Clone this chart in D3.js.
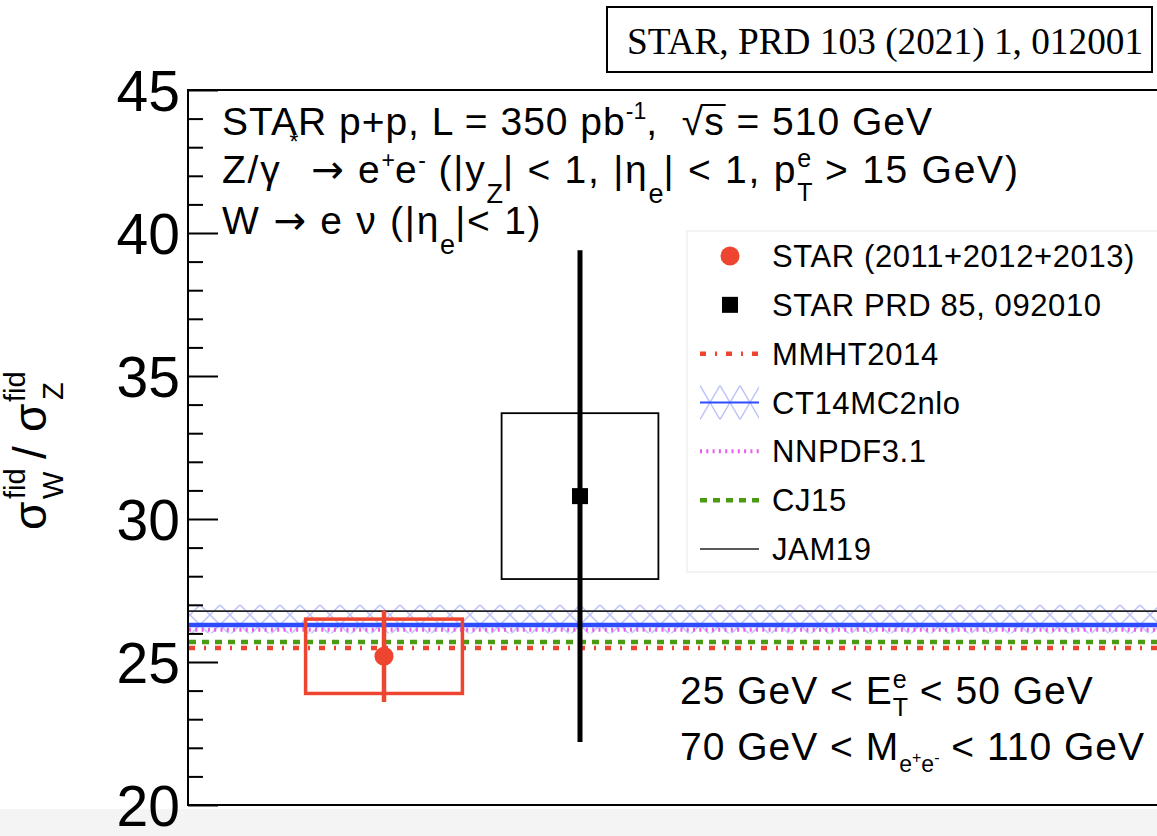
<!DOCTYPE html>
<html>
<head>
<meta charset="utf-8">
<script src="https://cdn.jsdelivr.net/npm/d3@7"></script>
<style>
  html, body { margin: 0; padding: 0; background: #ffffff; }
  svg { display: block; }
  text { font-family: "Liberation Sans", Arial, Helvetica, sans-serif; fill: #000; }
</style>
</head>
<body>
<svg id="chart" width="1157" height="836"></svg>
<script>
// Measured W/Z fiducial cross-section ratios
const pointNames = ["STAR (2011+2012+2013)", "STAR PRD 85, 092010"];
const pointX = [1, 2];
const pointVal = [25.2, 30.8];
const statErr = [1.6, 8.6];
const sysErr = [1.3, 2.9];

// Theory predictions (central values) and the CT14MC2nlo uncertainty band
const theoryNames = ["MMHT2014", "CT14MC2nlo", "NNPDF3.1", "CJ15", "JAM19"];
const theoryVal = [25.49, 26.29, 26.13, 25.70, 26.78];
const ct14Band = [26.0, 27.0];

// Axis ticks
const yMajorTicks = [20, 25, 30, 35, 40, 45];
const yMinorTicks = [21, 22, 23, 24, 26, 27, 28, 29, 31, 32, 33, 34, 36, 37, 38, 39, 41, 42, 43, 44];

const svg = d3.select("#chart");
const W = 1157, H = 836;

const y = d3.scaleLinear().domain([20, 45]).range([805, 90]);
const x = d3.scaleLinear().domain([0, 5]).range([188, 1168]);

const colors = {
  red: "#ee4531",
  blue: "#2d4cff",
  magenta: "#ea5cf0",
  green: "#4a9a12",
  black: "#000000"
};

const styles = {
  MMHT2014: { color: colors.red, width: 4.5, dash: "6,9,2,9" },
  CT14MC2nlo: { color: colors.blue, width: 4.5, dash: null },
  "NNPDF3.1": { color: colors.magenta, width: 4, dash: "2,4.3" },
  CJ15: { color: colors.green, width: 4.5, dash: "7,6" },
  JAM19: { color: "#222", width: 1.6, dash: null }
};

// light grey strip at the very bottom
svg.append("rect").attr("x", 0).attr("y", 809).attr("width", W).attr("height", H - 809).attr("fill", "#f4f4f4");

// cross-hatch pattern for the CT14 band
const defs = svg.append("defs");
const pat = defs.append("pattern")
  .attr("id", "xhatch")
  .attr("patternUnits", "userSpaceOnUse")
  .attr("width", 20).attr("height", 20)
  .attr("y", y(ct14Band[1]));
pat.append("path").attr("d", "M0,0 L20,20 M0,20 L20,0 M-2,2 L2,-2 M18,22 L22,18 M-2,18 L2,22 M18,-2 L22,2")
  .attr("stroke", "#9aa3f5").attr("stroke-width", 1.3).attr("fill", "none").attr("opacity", 0.75);

const plot = svg.append("g");

// CT14 uncertainty band
plot.append("rect")
  .attr("x", x(0)).attr("width", x(5) - x(0))
  .attr("y", y(ct14Band[1])).attr("height", y(ct14Band[0]) - y(ct14Band[1]))
  .attr("fill", "url(#xhatch)");

// theory lines (drawn back to front)
const drawOrder = ["MMHT2014", "CJ15", "NNPDF3.1", "CT14MC2nlo", "JAM19"];
drawOrder.forEach(name => {
  const i = theoryNames.indexOf(name);
  const st = styles[name];
  plot.append("line")
    .attr("x1", x(0) + 1).attr("x2", x(5))
    .attr("y1", y(theoryVal[i])).attr("y2", y(theoryVal[i]))
    .attr("stroke", st.color).attr("stroke-width", st.width)
    .attr("stroke-dasharray", st.dash);
});

// data points: systematic boxes, statistical error bars, markers
const boxHalf = 0.4;
const ptColor = [colors.red, colors.black];
const boxWidth = [3.5, 1.8];
const barWidth = [4.5, 5];
pointX.forEach((px, i) => {
  plot.append("rect")
    .attr("x", x(px - boxHalf)).attr("width", x(px + boxHalf) - x(px - boxHalf))
    .attr("y", y(pointVal[i] + sysErr[i])).attr("height", y(pointVal[i] - sysErr[i]) - y(pointVal[i] + sysErr[i]))
    .attr("fill", "none").attr("stroke", ptColor[i]).attr("stroke-width", boxWidth[i]);
  plot.append("line")
    .attr("x1", x(px)).attr("x2", x(px))
    .attr("y1", y(pointVal[i] + statErr[i])).attr("y2", y(pointVal[i] - statErr[i]))
    .attr("stroke", ptColor[i]).attr("stroke-width", barWidth[i]);
});
plot.append("circle").attr("cx", x(pointX[0])).attr("cy", y(pointVal[0])).attr("r", 9.5).attr("fill", colors.red);
plot.append("rect").attr("x", x(pointX[1]) - 8).attr("y", y(pointVal[1]) - 8).attr("width", 16).attr("height", 16).attr("fill", "#000");

// frame
svg.append("line").attr("x1", 188).attr("x2", 188).attr("y1", 89).attr("y2", 806).attr("stroke", "#000").attr("stroke-width", 2);
svg.append("line").attr("x1", 187).attr("x2", W).attr("y1", 90).attr("y2", 90).attr("stroke", "#000").attr("stroke-width", 2);
svg.append("line").attr("x1", 187).attr("x2", W).attr("y1", 805).attr("y2", 805).attr("stroke", "#000").attr("stroke-width", 2);

// y axis ticks (inside) and labels
const gMaj = svg.append("g").attr("transform", "translate(188,0)")
  .call(d3.axisRight(y).tickValues(yMajorTicks).tickSize(30).tickFormat(""));
const gMin = svg.append("g").attr("transform", "translate(188,0)")
  .call(d3.axisRight(y).tickValues(yMinorTicks).tickSize(15).tickFormat(""));
[gMaj, gMin].forEach(g => {
  g.select(".domain").remove();
  g.selectAll(".tick line").attr("stroke", "#000").attr("stroke-width", 2);
});
const gLab = svg.append("g").attr("transform", "translate(188,0)")
  .call(d3.axisLeft(y).tickValues(yMajorTicks).tickSize(0).tickPadding(8).tickFormat(d3.format("d")));
gLab.select(".domain").remove();
gLab.selectAll("text").attr("font-size", 57).attr("font-family", "Liberation Sans, Arial, sans-serif").attr("fill", "#000").attr("dy", "0.36em");

// rich text helper: lays out segments left to right
function rich(parent, x0, y0, segs, base, spacing) {
  let cx = x0;
  const out = [];
  segs.forEach(s => {
    const t = parent.append("text")
      .attr("x", cx + (s.dx || 0))
      .attr("y", y0 + (s.dy || 0))
      .attr("font-size", s.size || base)
      .attr("letter-spacing", s.size ? 0 : (spacing || 0))
      .style("white-space", "pre")
      .text(s.t);
    if (s.font) t.style("font-family", s.font);
    const w = t.node().getComputedTextLength();
    out.push({ x: cx + (s.dx || 0), w: w, node: t });
    if (!s.keep) cx += (s.dx || 0) + w;
  });
  return out;
}

const ARROW_FONT = "'DejaVu Sans', sans-serif";

// header block
const hdr = svg.append("g");
const l1 = rich(hdr, 222, 135, [
  { t: "STAR p+p, L = 350 pb" },
  { t: "-1", size: 23, dy: -16 },
  { t: ",  " },
  { t: "√" },
  { t: "s" },
  { t: " = 510 GeV" }
], 39, 1);
// radical bar over s
hdr.append("line").attr("x1", l1[3].x + l1[3].w - 3).attr("x2", l1[4].x + l1[4].w + 1)
  .attr("y1", 105).attr("y2", 105).attr("stroke", "#000").attr("stroke-width", 2);

rich(hdr, 222, 183, [
  { t: "Z/γ" },
  { t: "*", size: 23, dy: -33, dx: 8 },
  { t: " " },
  { t: "→", font: ARROW_FONT },
  { t: " e" },
  { t: "+", size: 23, dy: -15 },
  { t: "e" },
  { t: "-", size: 23, dy: -15 },
  { t: " (|y" },
  { t: "Z", size: 27, dy: 20 },
  { t: "| < 1, |η" },
  { t: "e", size: 27, dy: 20 },
  { t: "| < 1, p" },
  { t: "e", size: 25, dy: -16, keep: true },
  { t: "T", size: 25, dy: 18 },
  { t: " > 15 GeV)" }
], 39, 1.75);

rich(hdr, 222, 234, [
  { t: "W " },
  { t: "→", font: ARROW_FONT },
  { t: " e ν (|η" },
  { t: "e", size: 27, dy: 20 },
  { t: "|< 1)" }
], 39, 1.75);

// cuts block
rich(svg, 680, 704, [
  { t: "25 GeV < E" },
  { t: "e", size: 25, dy: -16, keep: true },
  { t: "T", size: 25, dy: 12 },
  { t: " < 50 GeV" }
], 39, 1);
rich(svg, 680, 760, [
  { t: "70 GeV < M" },
  { t: "e", size: 23, dy: 12 },
  { t: "+", size: 16, dy: 3 },
  { t: "e", size: 23, dy: 12 },
  { t: "-", size: 16, dy: 3 },
  { t: " < 110 GeV" }
], 39, 1);

// y-axis title
const yt = svg.append("g").attr("transform", "translate(46,530) rotate(-90)");
const ytSegs = [
  { t: "σ", size: 46, off: 0, dy: 0 },
  { t: "fid", size: 29, off: 31, dy: -21 },
  { t: "W", size: 29, off: 31, dy: 17 },
  { t: "/", size: 46, off: 71, dy: 0 },
  { t: "σ", size: 46, off: 98, dy: 0 },
  { t: "fid", size: 29, off: 128, dy: -21 },
  { t: "Z", size: 29, off: 130, dy: 17 }
];
ytSegs.forEach(s => {
  yt.append("text").attr("x", s.off).attr("y", s.dy).attr("font-size", s.size).text(s.t);
});

// legend
const lg = svg.append("g");
lg.append("rect").attr("x", 687).attr("y", 231).attr("width", 480).attr("height", 341)
  .attr("fill", "#fff").attr("stroke", "#f0f0f0").attr("stroke-width", 1.5);
const legendEntries = [pointNames[0], pointNames[1]].concat(theoryNames);
const ly = d3.scaleLinear().domain([0, legendEntries.length - 1]).range([256, 549]);
const patL = defs.append("pattern")
  .attr("id", "xhatchL")
  .attr("patternUnits", "userSpaceOnUse")
  .attr("width", 20).attr("height", 34)
  .attr("x", 700).attr("y", ly(3) - 17);
patL.append("path").attr("d", "M0,0 L20,34 M0,34 L20,0")
  .attr("stroke", "#9aa3f5").attr("stroke-width", 1.3).attr("fill", "none").attr("opacity", 0.75);
legendEntries.forEach((name, i) => {
  const cy = ly(i);
  if (i === 0) {
    lg.append("circle").attr("cx", 730).attr("cy", cy).attr("r", 9.5).attr("fill", colors.red);
  } else if (i === 1) {
    lg.append("rect").attr("x", 722).attr("y", cy - 8).attr("width", 16).attr("height", 16).attr("fill", "#000");
  } else {
    const st = styles[name];
    if (name === "CT14MC2nlo") {
      lg.append("rect").attr("x", 700).attr("y", cy - 17).attr("width", 59).attr("height", 34)
        .attr("fill", "url(#xhatchL)");
    }
    lg.append("line").attr("x1", 700).attr("x2", 759).attr("y1", cy).attr("y2", cy)
      .attr("stroke", st.color).attr("stroke-width", name === "JAM19" ? 1.6 : (name === "CT14MC2nlo" ? 2 : st.width))
      .attr("stroke-dasharray", st.dash);
  }
  lg.append("text").attr("x", 772).attr("y", cy + 11).attr("font-size", 31).attr("letter-spacing", 0.6).text(name);
});

// reference box
svg.append("rect").attr("x", 607).attr("y", 7).attr("width", 545).attr("height", 65)
  .attr("fill", "#fff").attr("stroke", "#000").attr("stroke-width", 2);
svg.append("text").attr("x", 627).attr("y", 54).attr("font-size", 37.3)
  .style("font-family", "'Liberation Serif', 'Times New Roman', serif")
  .text("STAR, PRD 103 (2021) 1, 012001");
</script>
</body>
</html>
